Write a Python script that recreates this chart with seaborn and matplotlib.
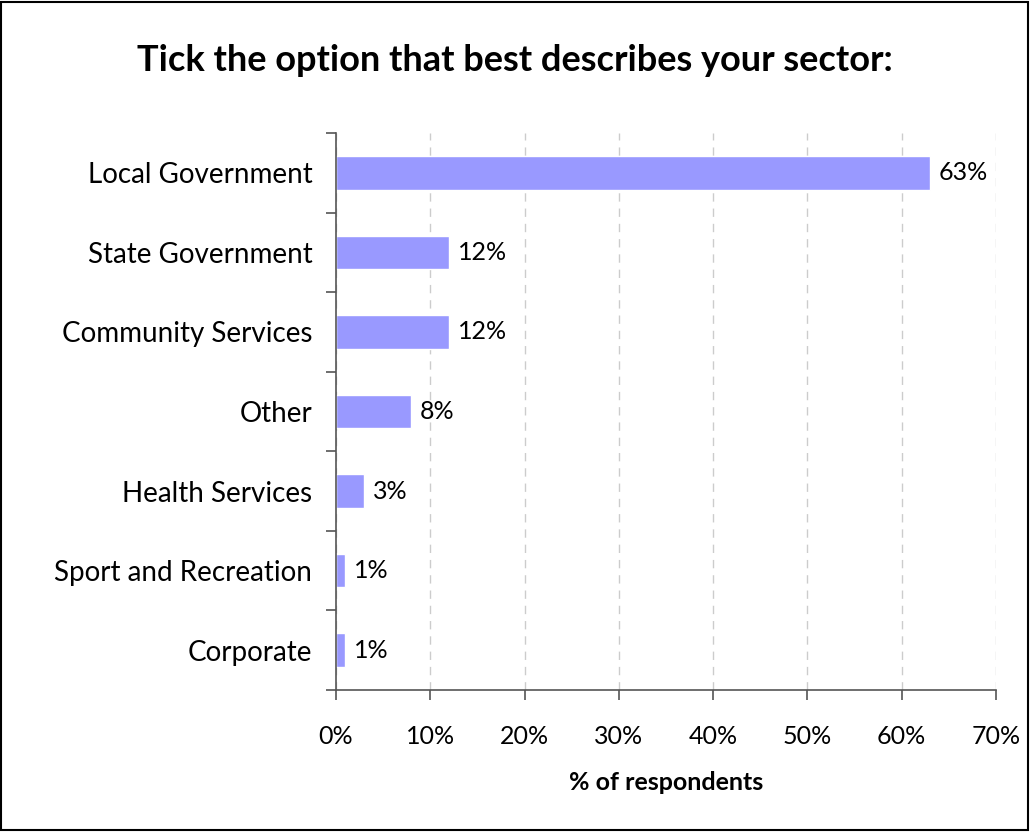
import matplotlib
matplotlib.use("Agg")
import matplotlib.pyplot as plt
import seaborn as sns
import pandas as pd
from matplotlib.ticker import FixedLocator
from matplotlib.patches import Rectangle

categories = ["Local Government", "State Government", "Community Services", "Other",
              "Health Services", "Sport and Recreation", "Corporate"]
values = [63, 12, 12, 8, 3, 1, 1]
labels = ["63%", "12%", "12%", "8%", "3%", "1%", "1%"]
xticks = [0, 10, 20, 30, 40, 50, 60, 70]
xticklabels = ["0%", "10%", "20%", "30%", "40%", "50%", "60%", "70%"]

sns.set_theme(style="white")
plt.rcParams["font.family"] = ["Lato", "DejaVu Sans"]
plt.rcParams["text.color"] = "black"
plt.rcParams["axes.labelcolor"] = "black"

df = pd.DataFrame({"cat": categories, "val": values})

fig = plt.figure(figsize=(10.3, 8.32), dpi=100)
ax = fig.add_axes([0.3262, 0.1707, 0.6408, 0.6693])

sns.barplot(data=df, y="cat", x="val", orient="h", color="#9999FF", saturation=1,
            width=0.42, ax=ax)

ax.set_xlim(0, 70)
ax.set_ylim(6.5, -0.5)
ax.set_xticks(xticks)
ax.set_xticklabels(xticklabels, fontsize=18)
ax.set_yticks(range(len(categories)))
ax.set_yticklabels(categories, fontsize=20)
ax.yaxis.set_minor_locator(FixedLocator([i - 0.5 for i in range(len(categories) + 1)]))
ax.tick_params(axis="y", which="major", length=0, pad=17, labelcolor="black")
ax.tick_params(axis="y", which="minor", length=7, width=1.2, color="#555555", direction="out", left=True)
ax.tick_params(axis="x", which="major", length=7, width=1.2, color="#555555", direction="out",
               bottom=True, pad=18, labelcolor="black")

ax.set_axisbelow(True)
ax.xaxis.grid(True, linestyle=(0, (6, 5)), color="#CCCCCC", linewidth=1)
ax.yaxis.grid(False)

for s in ["top", "right"]:
    ax.spines[s].set_visible(False)
for s in ["left", "bottom"]:
    ax.spines[s].set_color("#555555")
    ax.spines[s].set_linewidth(1.2)

for i, (v, lab) in enumerate(zip(values, labels)):
    ax.annotate(lab, xy=(v, i), xytext=(6, 0), textcoords="offset points",
                va="center", ha="left", fontsize=18, color="black")

ax.set_ylabel("")
ax.set_xlabel("% of respondents", fontsize=18, fontweight="bold", labelpad=17, color="black")

fig.text(0.5, 0.927, "Tick the option that best describes your sector:", ha="center", va="center",
         fontsize=26, fontweight="bold", color="black")

fig.patches.append(Rectangle((0.001, 0.002), 0.997, 0.996, transform=fig.transFigure,
                             fill=False, edgecolor="black", linewidth=1.5))

fig.savefig("out.png", dpi=100)
